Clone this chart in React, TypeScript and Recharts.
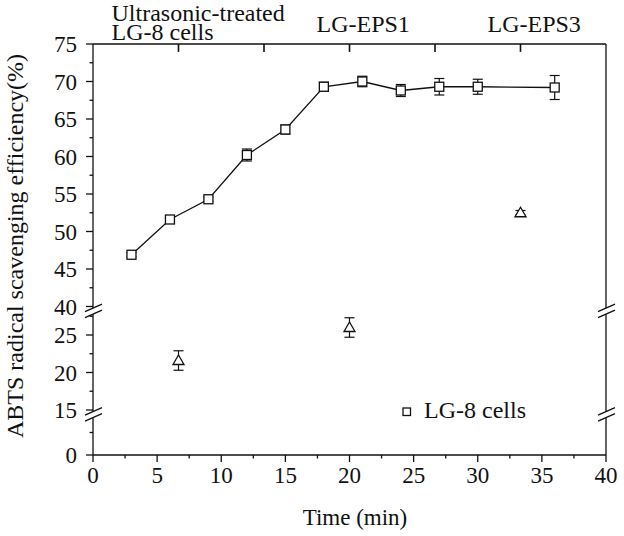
import React from 'react';
import { ComposedChart, Line, Scatter, XAxis, YAxis, ErrorBar, ReferenceDot, ReferenceLine, Legend } from 'recharts';

// ---- data ----
const times = [3, 6, 9, 12, 15, 18, 21, 24, 27, 30, 36];
const lg8Values = [46.9, 51.6, 54.3, 60.2, 63.6, 69.3, 70.0, 68.8, 69.3, 69.3, 69.2];
const lg8Errors = [0.3, 0.3, 0.3, 0.8, 0.6, 0.6, 0.7, 0.8, 1.1, 1.0, 1.6];

const sampleTimes = [20 / 3, 20, 100 / 3];
const sampleValues = [21.6, 26.0, 52.5];
const sampleErrors = [1.3, 1.3, 0.3];

const topTicks = [20 / 3, 40 / 3, 20, 80 / 3, 100 / 3];
const topLabels = [['Ultrasonic-treated', 'LG-8 cells'], [], ['LG-EPS1'], [], ['LG-EPS3']];

const xMajorTicks = [0, 5, 10, 15, 20, 25, 30, 35, 40];
const xMinorTicks = [2.5, 7.5, 12.5, 17.5, 22.5, 27.5, 32.5, 37.5];
const yMajorTicks = [0, 15, 20, 25, 40, 45, 50, 55, 60, 65, 70, 75];
const yMinorTicks = [7.5, 17.5, 22.5, 27.5, 42.5, 47.5, 52.5, 57.5, 62.5, 67.5, 72.5];

const legendLabel = 'LG-8 cells';
const xTitle = 'Time (min)';
const yTitle = 'ABTS radical scavenging efficiency(%)';

// ---- broken axis mapping (real value -> display value) ----
const LOW_END = 15;
const LOW_SCALE = 0.4;
const UPPER_START = 40;
const UPPER_BASE = 19.8;
const toDisplay = (v: number) => {
  if (v <= LOW_END) return v * LOW_SCALE;
  if (v < 35) return LOW_END * LOW_SCALE + (v - LOW_END);
  return UPPER_BASE + (v - UPPER_START);
};
const Y_MAX = toDisplay(75);
const TOP_TICK_LEN = 1.05; // inward top tick length, in display units
const breakUpper = (toDisplay(27.5) + toDisplay(40)) / 2 + 0.1;
const breakLower = toDisplay(13.6);

const lg8Data = times.map((x, i) => ({ x, y: toDisplay(lg8Values[i]), err: lg8Errors[i] }));
const sampleData = sampleTimes.map((x, i) => ({ x, y: toDisplay(sampleValues[i]), err: sampleErrors[i] }));

const yEntries = [
  ...yMajorTicks.map((v) => ({ v, major: true })),
  ...yMinorTicks.map((v) => ({ v, major: false })),
];
const yTicksDisplay = yEntries.map((e) => toDisplay(e.v));
const xTicksAll = [...xMajorTicks, ...xMinorTicks].sort((a, b) => a - b);

const FONT = '"Liberation Serif", "Times New Roman", serif';
const INK = '#111';

const YTick = (props: any) => {
  const { x, y, payload } = props;
  const entry = yEntries.find((e) => Math.abs(toDisplay(e.v) - payload.value) < 1e-6);
  const major = entry ? entry.major : false;
  return (
    <g>
      <line x1={x} x2={x - (major ? 7 : 3.5)} y1={y} y2={y} stroke={INK} strokeWidth={1.3} />
      {major && entry && (
        <text x={x - 16} y={y + 8} textAnchor="end" fontFamily={FONT} fontSize={23} fill={INK}>
          {entry.v}
        </text>
      )}
    </g>
  );
};

const XTick = (props: any) => {
  const { x, y, payload } = props;
  const major = xMajorTicks.includes(payload.value);
  return (
    <g>
      <line x1={x} x2={x} y1={y} y2={y + (major ? 7 : 3.5)} stroke={INK} strokeWidth={1.3} />
      {major && (
        <text x={x} y={y + 28} textAnchor="middle" fontFamily={FONT} fontSize={23} fill={INK}>
          {payload.value}
        </text>
      )}
    </g>
  );
};

const TopTick = (props: any) => {
  const { x, y, payload } = props;
  const idx = topTicks.findIndex((t) => Math.abs(t - payload.value) < 1e-6);
  const lines = topLabels[idx] || [];
  if (!lines.length) return <g />;
  const multi = lines.length > 1;
  const tx = x + (multi ? -67 : -33);
  return (
    <text
      x={tx}
      y={multi ? y - 23 : y - 12}
      textAnchor="start"
      fontFamily={FONT}
      fontSize={24}
      fill={INK}
    >
      {lines.map((t, i) => (
        <tspan key={i} x={tx} dy={i === 0 ? 0 : 19}>
          {t}
        </tspan>
      ))}
    </text>
  );
};

const SquareDot = (props: any) => {
  const { cx, cy } = props;
  if (cx == null || cy == null) return null;
  return <rect x={cx - 4.5} y={cy - 4.5} width={9} height={9} fill="#fff" stroke={INK} strokeWidth={1.3} />;
};

const TriangleDot = (props: any) => {
  const { cx, cy } = props;
  if (cx == null || cy == null) return null;
  return (
    <polygon
      points={`${cx},${cy - 5.5} ${cx + 5.5},${cy + 4} ${cx - 5.5},${cy + 4}`}
      fill="#fff"
      stroke={INK}
      strokeWidth={1.3}
    />
  );
};

const BreakMark = (props: any) => {
  const { cx, cy } = props;
  if (cx == null || cy == null) return null;
  return (
    <g>
      <polygon
        points={`${cx - 8},${cy + 1} ${cx + 9},${cy - 6.5} ${cx + 9},${cy - 0.5} ${cx - 8},${cy + 7}`}
        fill="#fff"
      />
      <line x1={cx - 8} y1={cy + 1} x2={cx + 9} y2={cy - 6.5} stroke={INK} strokeWidth={1.3} />
      <line x1={cx - 8} y1={cy + 7} x2={cx + 9} y2={cy - 0.5} stroke={INK} strokeWidth={1.3} />
    </g>
  );
};

const LegendContent = () => (
  <svg width={150} height={32}>
    <rect x={4} y={13} width={7.5} height={7.5} fill="#fff" stroke={INK} strokeWidth={1.3} />
    <text x={25} y={23} fontFamily={FONT} fontSize={24} fill={INK}>
      {legendLabel}
    </text>
  </svg>
);

export default function App() {
  return (
    <div style={{ position: 'absolute', left: 0, top: 0, width: 624, height: 536, background: '#fff' }}>
      <ComposedChart width={624} height={536} margin={{ top: 42, right: 17, bottom: 0, left: 0 }}>
        <XAxis
          xAxisId="bottom"
          dataKey="x"
          type="number"
          domain={[0, 40]}
          allowDataOverflow
          ticks={xTicksAll}
          interval={0}
          height={81}
          tickSize={0}
          tickMargin={0}
          tick={<XTick />}
          axisLine={{ stroke: INK, strokeWidth: 1.3 }}
          tickLine={false}
          label={(p: any) => (
            <text x={355} y={525} textAnchor="middle" fontFamily={FONT} fontSize={23} fill={INK}>
              {xTitle}
            </text>
          )}
        />
        <XAxis
          xAxisId="top"
          dataKey="x"
          orientation="top"
          type="number"
          domain={[0, 40]}
          allowDataOverflow
          ticks={topTicks}
          interval={0}
          height={2}
          tickSize={0}
          tickMargin={0}
          tick={<TopTick />}
          axisLine={{ stroke: INK, strokeWidth: 1.3 }}
          tickLine={false}
        />
        <YAxis
          yAxisId="left"
          dataKey="y"
          type="number"
          domain={[0, Y_MAX]}
          allowDataOverflow
          ticks={yTicksDisplay}
          interval={0}
          width={93}
          tickSize={0}
          tickMargin={0}
          tick={<YTick />}
          axisLine={{ stroke: INK, strokeWidth: 1.3 }}
          tickLine={false}
          label={(p: any) => (
            <text
              x={23}
              y={246}
              transform="rotate(-90 23 246)"
              textAnchor="middle"
              fontFamily={FONT}
              fontSize={24}
              fill={INK}
            >
              {yTitle}
            </text>
          )}
        />
        <YAxis
          yAxisId="right"
          orientation="right"
          type="number"
          domain={[0, Y_MAX]}
          allowDataOverflow
          width={1}
          tick={false}
          tickLine={false}
          axisLine={{ stroke: INK, strokeWidth: 1.3 }}
        />
        {topTicks.map((t) => (
          <ReferenceLine
            key={`tt-${t}`}
            xAxisId="top"
            yAxisId="left"
            segment={[
              { x: t, y: Y_MAX },
              { x: t, y: Y_MAX - TOP_TICK_LEN },
            ]}
            stroke={INK}
            strokeWidth={1.6}
            ifOverflow="visible"
            zIndex={1500}
          />
        ))}
        <Line
          xAxisId="bottom"
          yAxisId="left"
          data={lg8Data}
          dataKey="y"
          type="linear"
          stroke={INK}
          strokeWidth={1.3}
          dot={<SquareDot />}
          activeDot={false}
          isAnimationActive={false}
          legendType="none"
        >
          <ErrorBar dataKey="err" direction="y" width={5} stroke={INK} strokeWidth={1.2} />
        </Line>
        <Scatter
          xAxisId="top"
          yAxisId="left"
          data={sampleData}
          dataKey="y"
          shape={<TriangleDot />}
          isAnimationActive={false}
          legendType="none"
        >
          <ErrorBar dataKey="err" direction="y" width={5} stroke={INK} strokeWidth={1.2} />
        </Scatter>
        {[0, 40].map((bx) =>
          [breakUpper, breakLower].map((by) => (
            <ReferenceDot
              key={`${bx}-${by}`}
              xAxisId="bottom"
              yAxisId="left"
              x={bx}
              y={by}
              r={0}
              ifOverflow="visible"
              zIndex={1500}
              shape={<BreakMark />}
            />
          ))
        )}
        <Legend
          layout="horizontal"
          verticalAlign="middle"
          align="center"
          content={() => <LegendContent />}
          wrapperStyle={{ position: 'absolute', left: 399, top: 395, width: 150, height: 32 }}
        />
      </ComposedChart>
    </div>
  );
}
